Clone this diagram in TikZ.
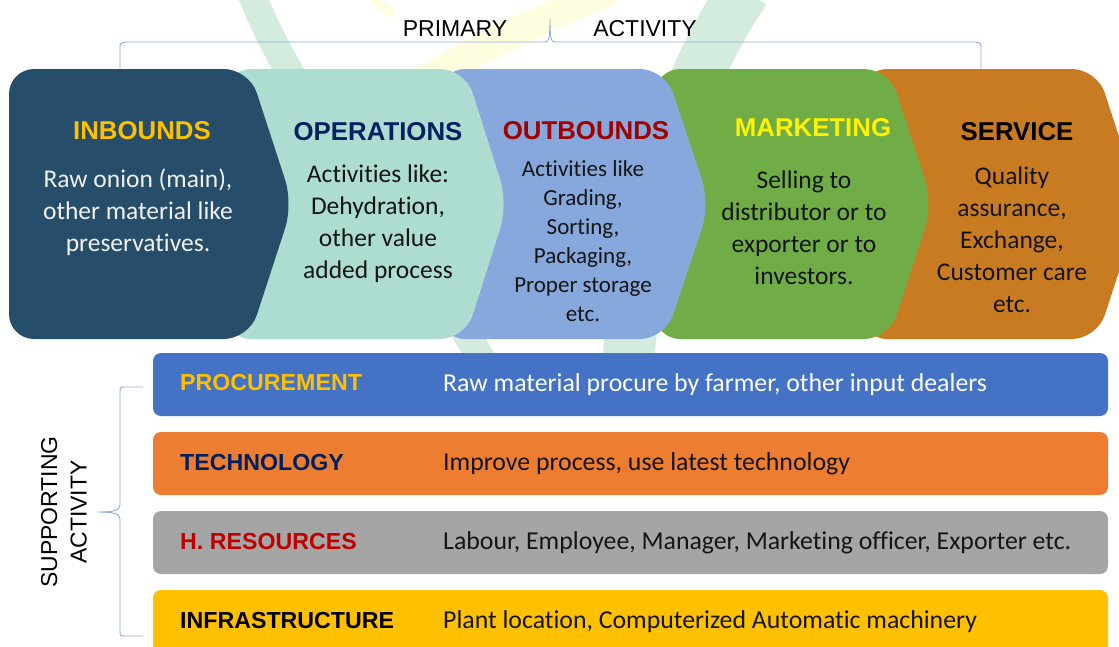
\documentclass[tikz,border=0pt]{standalone}
\usepackage{fontspec}
\setmainfont{Carlito}[Ligatures=NoCommon]
\newfontfamily\arialf{Liberation Sans}
\definecolor{inbc}{HTML}{264E6A}
\definecolor{opc}{HTML}{ADDDD0}
\definecolor{outc}{HTML}{86A8DC}
\definecolor{mktc}{HTML}{70AD47}
\definecolor{srvc}{HTML}{C97B22}
\definecolor{gold}{HTML}{FFC000}
\definecolor{navy}{HTML}{002060}
\definecolor{dred}{HTML}{A00000}
\definecolor{hrred}{HTML}{C00000}
\definecolor{procc}{HTML}{4472C4}
\definecolor{techc}{HTML}{ED7D31}
\definecolor{hrc}{HTML}{A5A5A5}
\definecolor{infc}{HTML}{FFC000}
\definecolor{bracec}{HTML}{8EA9DB}
\definecolor{wmgreen}{HTML}{D3ECDD}
\definecolor{wmyellow}{HTML}{FFFDE0}
\definecolor{bodyw}{HTML}{F0F0F0}
\definecolor{txt}{HTML}{151515}
\newcommand{\chevshape}[4]{\fill[#1, rounded corners=25pt] (#2,69) -- (#3,69) -- (#4,204) -- (#3,339) -- (#2,339) -- cycle;}
\begin{document}
\begin{tikzpicture}[x=1pt,y=-1pt,
  ctitle/.style={inner sep=0pt, font=\arialf\bfseries\fontsize{25.8}{30}\selectfont},
  cbody/.style={inner sep=0pt, align=center, font=\fontsize{25.5}{32}\selectfont},
  btitle/.style={inner sep=0pt, anchor=west, font=\arialf\bfseries\fontsize{23.2}{28}\selectfont},
  bdesc/.style={inner sep=0pt, anchor=west, font=\fontsize{25.8}{30}\selectfont},
  bar/.style={inner sep=0pt, rounded corners=8pt, minimum width=955pt, minimum height=63pt},
  brace/.style={draw=bracec, line width=0.9pt},
  label/.style={inner sep=0pt, font=\arialf\fontsize{23}{29.5}\selectfont}]
\useasboundingbox (0,0) rectangle (1119,646);
% faint watermark
\draw[wmgreen, line width=28pt] (250,-10) .. controls (300,120) and (420,250) .. (485,365);
\draw[wmgreen, line width=52pt] (745,-10) .. controls (690,70) and (640,200) .. (628,365);
\draw[wmyellow, line width=9pt] (372,-4) .. controls (380,5) and (386,10) .. (394,14);
\draw[wmyellow, line width=30pt] (612,-10) .. controls (540,20) and (470,50) .. (420,85);
% top bracket
\draw[brace] (120,70) -- (120,48) .. controls (120,43) .. (126,42) -- (545,42) .. controls (549,42) and (550,38) .. (550,19) .. controls (550,38) and (551,42) .. (555,42) -- (975,42) .. controls (981,43) .. (981,48) -- (981,70);
\node[label] (primary) at (455,29) {PRIMARY};
\node[label] (activity) at (645,29) {ACTIVITY};
% chevrons (drawn right to left)
\chevshape{srvc}{862}{1097}{1141}
\chevshape{mktc}{655}{889}{933}
\chevshape{outc}{440}{665}{710}
\chevshape{opc}{226}{465}{508}
\chevshape{inbc}{9}{249}{293}
% chevron texts
\node[ctitle, text=gold] (inbt) at (142,131) {INBOUNDS};
\node[cbody, text=bodyw] (inbb) at (138,212) {Raw onion (main),\\other material like\\preservatives.};
\node[ctitle, text=navy] (opt) at (378,132) {OPERATIONS};
\node[cbody, text=txt] (opb) at (378,224) {Activities like:\\Dehydration,\\other value\\added process};
\node[ctitle, text=dred] (outt) at (586,131) {OUTBOUNDS};
\node[cbody, text=txt, font=\fontsize{23}{29}\selectfont] (outb) at (583,241) {Activities like\\Grading,\\Sorting,\\Packaging,\\Proper storage\\etc.};
\node[ctitle, text=yellow] (mktt) at (813,128) {MARKETING};
\node[cbody, text=txt] (mktb) at (804,228) {Selling to\\distributor or to\\exporter or to\\investors.};
\node[ctitle, text=black] (srvt) at (1017,132) {SERVICE};
\node[cbody, text=txt] (srvb) at (1012,240) {Quality\\assurance,\\Exchange,\\Customer care\\etc.};
% supporting bars
\node[bar, fill=procc] (proc) at (630.5,384.5) {};
\node[bar, fill=techc] (tech) at (630.5,463.5) {};
\node[bar, fill=hrc] (hr) at (630.5,542.5) {};
\node[bar, fill=infc] (infra) at (630.5,621.5) {};
\node[btitle, text=gold] (proct) at (180,383) {PROCUREMENT};
\node[bdesc, text=white] (procd) at (443,385) {Raw material procure by farmer, other input dealers};
\node[btitle, text=navy] (techt) at (180,463) {TECHNOLOGY};
\node[bdesc, text=txt] (techd) at (443,464) {Improve process, use latest technology};
\node[btitle, text=hrred] (hrt) at (180,542) {H. RESOURCES};
\node[bdesc, text=txt] (hrd) at (443,543) {Labour, Employee, Manager, Marketing officer, Exporter etc.};
\node[btitle, text=black] (inft) at (180,621) {INFRASTRUCTURE};
\node[bdesc, text=txt] (infd) at (443,622) {Plant location, Computerized Automatic machinery};
% left bracket
\draw[brace] (143,387) -- (126,387) .. controls (120,387) .. (120,393) -- (120,505) .. controls (120,511) and (112,512) .. (97,512) .. controls (112,512) and (120,513) .. (120,519) -- (120,630) .. controls (120,636) .. (126,636) -- (143,636);
\node[label, rotate=90, align=center] (supp) at (64,512) {SUPPORTING\\ACTIVITY};
\end{tikzpicture}
\end{document}
